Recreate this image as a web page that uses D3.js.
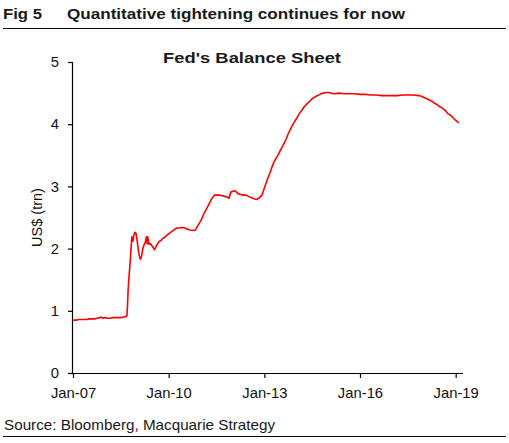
<!DOCTYPE html>
<html>
<head>
<meta charset="utf-8">
<script src="https://cdn.jsdelivr.net/npm/d3@7"></script>
<style>
  body { margin: 0; background: #fff; }
  svg { display: block; font-family: "Liberation Sans", Arial, sans-serif; }
</style>
</head>
<body>
<svg id="chart" width="509" height="443"></svg>
<script>
// Fed balance sheet, US$ trn
const dates = [
  "2007-01-03","2007-02-07","2007-03-07","2007-04-04","2007-05-02","2007-06-06",
  "2007-07-04","2007-08-01","2007-09-05","2007-10-03","2007-11-07","2007-11-21",
  "2007-12-05","2008-01-02","2008-02-06","2008-03-05","2008-04-02","2008-05-07",
  "2008-06-04","2008-07-02","2008-08-06","2008-09-03","2008-09-10","2008-09-17",
  "2008-09-24","2008-10-01","2008-10-15","2008-10-29","2008-11-05","2008-11-19",
  "2008-11-26","2008-12-10","2008-12-24","2009-01-07","2009-01-21","2009-02-04",
  "2009-02-11","2009-02-25","2009-03-11","2009-03-25","2009-04-08","2009-04-22",
  "2009-04-29","2009-05-06","2009-05-20","2009-06-03","2009-06-17","2009-07-01",
  "2009-07-15","2009-07-22","2009-08-05","2009-08-19","2009-09-02","2009-09-16",
  "2009-10-07","2009-10-21","2009-11-04","2009-11-25","2009-12-16","2010-01-13",
  "2010-02-10","2010-03-10","2010-04-07","2010-05-05","2010-06-02","2010-07-07",
  "2010-08-04","2010-09-01","2010-10-06","2010-11-03","2010-12-01","2011-01-05",
  "2011-02-02","2011-03-02","2011-04-06","2011-05-04","2011-06-08","2011-07-06",
  "2011-08-03","2011-09-07","2011-10-05","2011-11-02","2011-11-23","2011-12-14",
  "2012-01-04","2012-02-01","2012-03-07","2012-04-04","2012-05-02","2012-06-06",
  "2012-07-04","2012-08-01","2012-09-05","2012-10-03","2012-11-07","2012-12-05",
  "2013-01-02","2013-02-06","2013-03-06","2013-04-03","2013-05-01","2013-06-05",
  "2013-07-03","2013-08-07","2013-09-04","2013-10-02","2013-11-06","2013-12-04",
  "2014-01-08","2014-02-05","2014-03-05","2014-04-02","2014-05-07","2014-06-04",
  "2014-07-02","2014-08-06","2014-09-03","2014-10-01","2014-11-05","2014-12-03",
  "2015-01-07","2015-03-04","2015-05-06","2015-07-01","2015-09-02","2015-11-04",
  "2016-01-06","2016-03-02","2016-05-04","2016-07-06","2016-09-07","2016-11-02",
  "2017-01-04","2017-03-01","2017-05-03","2017-07-05","2017-09-06","2017-11-01",
  "2017-12-06","2018-01-03","2018-02-07","2018-03-07","2018-04-04","2018-05-02",
  "2018-06-06","2018-07-04","2018-08-01","2018-09-05","2018-10-03","2018-11-07",
  "2018-12-05","2019-01-02","2019-02-06"
];

const balance = [
  0.85, 0.85, 0.86, 0.86, 0.86, 0.86,
  0.87, 0.87, 0.87, 0.88, 0.89, 0.90,
  0.88, 0.89, 0.88, 0.88, 0.89, 0.89,
  0.89, 0.89, 0.90, 0.91, 0.93, 1.10,
  1.35, 1.50, 1.75, 2.05, 2.19, 2.12,
  2.20, 2.26, 2.24, 2.10, 1.95, 1.85,
  1.83, 1.88, 2.00, 2.06, 2.10, 2.19,
  2.08, 2.19, 2.07, 2.08, 2.06, 2.03,
  2.00, 1.98, 2.02, 2.06, 2.09, 2.12,
  2.13, 2.16, 2.17, 2.19, 2.22, 2.25,
  2.28, 2.31, 2.33, 2.33, 2.34, 2.33,
  2.31, 2.30, 2.29, 2.30, 2.37, 2.45,
  2.54, 2.62, 2.71, 2.79, 2.86, 2.86,
  2.86, 2.85, 2.84, 2.83, 2.81, 2.91,
  2.92, 2.93, 2.88, 2.87, 2.86, 2.86,
  2.84, 2.82, 2.80, 2.79, 2.82, 2.86,
  2.98, 3.12, 3.22, 3.33, 3.42, 3.50,
  3.58, 3.67, 3.75, 3.85, 3.95, 4.02,
  4.10, 4.17, 4.22, 4.28, 4.33, 4.37,
  4.41, 4.44, 4.46, 4.48, 4.50, 4.51,
  4.51, 4.49, 4.50, 4.49, 4.49, 4.49,
  4.48, 4.48, 4.47, 4.47, 4.46, 4.46,
  4.46, 4.46, 4.47, 4.47, 4.47, 4.46,
  4.45, 4.43, 4.41, 4.39, 4.37, 4.34,
  4.31, 4.28, 4.26, 4.22, 4.17, 4.14,
  4.10, 4.06, 4.02
];

const xTickDates = ["2007-01-01", "2010-01-01", "2013-01-01", "2016-01-01", "2019-01-01"];
const yTicks = [0, 1, 2, 3, 4, 5];

const parseDate = d3.timeParse("%Y-%m-%d");
const fmtTick = d3.timeFormat("Jan-%y");

const svg = d3.select("#chart");

// plot area
const plot = { left: 73, right: 463, top: 62, bottom: 373 };

const series = dates.map((d, i) => ({ date: parseDate(d), value: balance[i] }));

const x = d3.scaleTime()
    .domain([parseDate("2007-01-01"), parseDate("2019-03-26")])
    .range([plot.left, plot.right]);

const y = d3.scaleLinear()
    .domain([0, 5])
    .range([plot.bottom, plot.top]);

// header (text stretched to the widths seen in the picture)
function addText(xPos, yPos, txt, size, bold, len, anchor) {
    const t = svg.append("text")
        .attr("x", xPos)
        .attr("y", yPos)
        .attr("text-anchor", anchor || "start")
        .style("font-size", size + "px")
        .style("font-weight", bold ? "bold" : "normal")
        .style("fill", "#1a1a1a")
        .text(txt);
    if (len) t.attr("textLength", len).attr("lengthAdjust", "spacingAndGlyphs");
    return t;
}

addText(3, 19, "Fig 5", 14.5, true, 39);
addText(67, 19, "Quantitative tightening continues for now", 14.5, true, 338);

svg.append("line")
    .attr("x1", 3).attr("x2", 506)
    .attr("y1", 28.5).attr("y2", 28.5)
    .attr("stroke", "#000")
    .attr("stroke-width", 1.2);

// chart title
addText(252, 63, "Fed's Balance Sheet", 15.5, true, 178, "middle");

// axes
const xAxis = d3.axisBottom(x)
    .tickValues(xTickDates.map(parseDate))
    .tickFormat(fmtTick)
    .tickSize(5)
    .tickPadding(9);

const yAxis = d3.axisLeft(y)
    .tickValues(yTicks)
    .tickFormat(d3.format("d"))
    .tickSize(5)
    .tickPadding(9);

const gx = svg.append("g")
    .attr("transform", `translate(0,${plot.bottom})`)
    .call(xAxis);

const gy = svg.append("g")
    .attr("transform", `translate(${plot.left},0)`)
    .call(yAxis);

[gx, gy].forEach(g => {
    g.select(".domain").attr("stroke", "#000").attr("stroke-width", 1.2);
    g.selectAll(".tick line").attr("stroke", "#000").attr("stroke-width", 1.2);
    g.selectAll(".tick text")
        .style("font-family", "\"Liberation Sans\", Arial, sans-serif")
        .style("font-size", "14.8px")
        .style("fill", "#111");
});
// keep domain flat (no outer ticks)
gx.select(".domain").attr("d", `M${plot.left},0.5H${plot.right}`);
gy.select(".domain").attr("d", `M-0.5,${plot.top}V${plot.bottom}`);

svg.append("text")
    .attr("transform", `translate(37,${(plot.top + plot.bottom) / 2}) rotate(-90)`)
    .attr("text-anchor", "middle")
    .attr("dy", "0.35em")
    .style("font-size", "14.5px")
    .style("fill", "#111")
    .text("US$ (trn)");

// the line
const line = d3.line()
    .x(d => x(d.date))
    .y(d => y(d.value));

svg.append("path")
    .datum(series)
    .attr("fill", "none")
    .attr("stroke", "#ff0000")
    .attr("stroke-width", 1.6)
    .attr("stroke-linejoin", "round")
    .attr("d", line);

// footer
addText(4, 430, "Source: Bloomberg, Macquarie Strategy", 14.5, false, 271);

svg.append("line")
    .attr("x1", 3).attr("x2", 506)
    .attr("y1", 436.5).attr("y2", 436.5)
    .attr("stroke", "#000")
    .attr("stroke-width", 1.2);
</script>
</body>
</html>
